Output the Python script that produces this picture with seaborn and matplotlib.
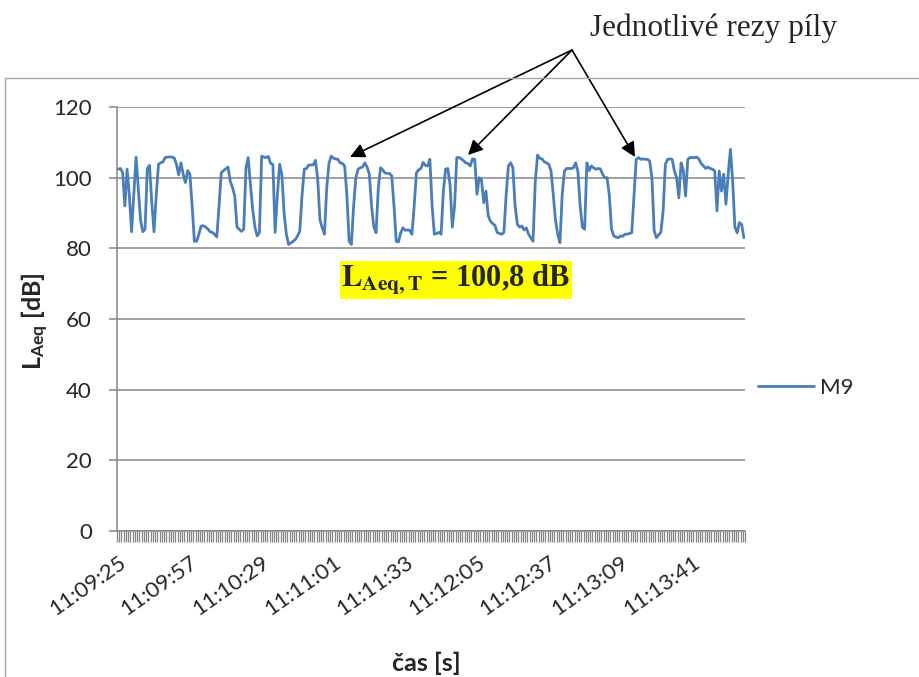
import matplotlib
matplotlib.use("Agg")
import matplotlib.pyplot as plt
import seaborn as sns
import numpy as np
import pandas as pd
from matplotlib.patches import Rectangle

# ---- data (one sample per second) ----
laeq = [
    102.4, 102.6, 101.5, 92.0, 102.4, 95.0, 84.7, 95.0, 105.8, 97.0,
    88.0, 84.7, 85.4, 102.5, 103.5, 93.0, 84.7, 95.0, 103.8, 104.2,
    104.5, 105.7, 105.8, 105.9, 105.8, 105.6, 103.8, 100.8, 104.2, 101.0,
    98.6, 102.0, 101.0, 92.0, 82.0, 82.0, 84.0, 86.3, 86.4, 86.0,
    85.5, 84.7, 84.5, 84.0, 83.2, 92.0, 101.4, 102.0, 102.5, 103.0,
    99.0, 97.2, 94.8, 86.0, 85.4, 84.8, 85.4, 102.8, 105.7, 98.0,
    91.0, 86.0, 83.5, 84.5, 106.1, 105.8, 105.7, 106.0, 104.0, 103.8,
    84.5, 95.0, 103.8, 101.0, 90.0, 84.0, 81.1, 81.5, 82.0, 82.5,
    83.5, 84.9, 95.0, 102.4, 102.6, 103.6, 103.6, 103.6, 104.9, 99.5,
    88.0, 85.8, 84.0, 97.0, 104.0, 106.1, 105.5, 105.3, 105.2, 104.2,
    104.0, 103.3, 95.0, 82.0, 81.1, 92.0, 100.0, 102.4, 102.8, 103.0,
    104.2, 103.0, 101.0, 92.0, 86.0, 84.4, 97.0, 102.8, 102.2, 101.3,
    101.2, 101.2, 100.5, 92.0, 82.0, 81.8, 84.4, 85.8, 85.1, 85.2,
    85.1, 84.0, 92.0, 101.4, 102.2, 102.6, 104.3, 103.5, 103.3, 105.2,
    92.0, 84.0, 84.2, 84.5, 84.0, 96.0, 102.4, 102.6, 98.0, 86.0,
    92.0, 105.7, 105.7, 105.3, 104.8, 104.2, 104.0, 103.3, 105.3, 105.2,
    95.3, 100.0, 99.5, 92.9, 96.2, 89.2, 87.7, 87.0, 86.5, 84.5,
    84.2, 84.0, 84.5, 95.0, 103.3, 104.2, 102.8, 92.0, 86.8, 86.0,
    86.3, 85.2, 85.8, 84.0, 83.0, 82.0, 99.0, 106.4, 105.5, 105.3,
    104.5, 104.2, 103.8, 102.0, 95.3, 88.0, 84.0, 81.6, 95.3, 101.9,
    102.6, 102.6, 102.6, 102.8, 104.2, 101.7, 92.0, 86.0, 85.4, 104.2,
    102.0, 103.3, 102.8, 102.4, 102.6, 102.5, 101.0, 100.0, 100.0, 95.0,
    85.4, 83.5, 83.2, 83.0, 83.5, 83.4, 84.0, 84.0, 84.2, 84.4,
    95.0, 105.2, 105.7, 105.2, 105.3, 105.2, 105.2, 104.7, 100.0, 85.0,
    83.0, 83.8, 84.6, 90.6, 103.8, 105.2, 105.3, 105.2, 102.0, 100.0,
    94.3, 104.2, 102.0, 94.8, 105.2, 105.7, 105.7, 105.7, 105.8, 105.2,
    104.0, 103.3, 102.6, 103.0, 102.6, 102.4, 101.9, 90.6, 101.9, 96.2,
    101.0, 92.5, 101.0, 108.0, 99.0, 86.0, 84.4, 87.3, 86.8, 83.0,
]
tick_labels = ["11:09:25", "11:09:57", "11:10:29", "11:11:01", "11:11:33",
               "11:12:05", "11:12:37", "11:13:09", "11:13:41"]
label_step = 32
y_ticks = [0, 20, 40, 60, 80, 100, 120]
series_name = "M9"
note_text = "Jednotlivé rezy píly"
result_value = "100,8"

W, H = 919, 677
sns.set_theme(style="white")
plt.rcParams['font.family'] = ['Lato', 'DejaVu Sans']
plt.rcParams['mathtext.fontset'] = 'custom'
plt.rcParams['mathtext.rm'] = 'Lato'
plt.rcParams['mathtext.bf'] = 'Lato:bold'
plt.rcParams['mathtext.it'] = 'Lato:italic'

fig = plt.figure(figsize=(W / 100, H / 100), dpi=100)
fig.patch.set_facecolor("white")

# outer chart frame (only left/top visible)
fig.add_artist(Rectangle((5 / W, -0.05), 1.2, (1 - 78 / H) + 0.05,
                         transform=fig.transFigure, fill=False,
                         edgecolor="#a6a6a6", linewidth=1.0))

ax = fig.add_axes([117 / W, 1 - 531 / H, 628 / W, 424 / H])
gray = "#868686"
n = len(laeq)
df = pd.DataFrame({"i": np.arange(n), "LAeq": laeq})
sns.lineplot(data=df, x="i", y="LAeq", ax=ax, color="#4A7EBB",
             linewidth=2.0, label=series_name, legend=False)

ax.set_xlim(-0.5, n - 0.5)
ax.set_ylim(0, 120)
ax.set_yticks(y_ticks)
ax.yaxis.grid(True, color=gray, linewidth=1.1)
ax.xaxis.grid(False)
for s in ["top", "right"]:
    ax.spines[s].set_visible(False)
for s in ["left", "bottom"]:
    ax.spines[s].set_color(gray)
    ax.spines[s].set_linewidth(1.1)

ax.set_xticks(np.arange(0, n, label_step)[:len(tick_labels)])
ax.set_xticklabels(tick_labels, rotation=35, ha="right", va="top",
                   rotation_mode="anchor", fontsize=16)
ax.set_xticks(np.arange(-0.5, n, 1), minor=True)
ax.tick_params(axis="x", which="major", bottom=True, length=0, pad=15)
ax.tick_params(axis="x", which="minor", bottom=True, length=8, width=0.9,
               color=gray, direction="out")
ax.tick_params(axis="y", left=True, length=6, width=1.1, color=gray,
               direction="out", labelsize=16, pad=12)
ax.set_xlabel("")
ax.set_ylabel("")

fig.text(35 / W, 1 - 321 / H, r"$\mathbf{L_{Aeq}}$ [dB]", rotation=90,
         fontweight="bold", fontsize=18, ha="center", va="center")
fig.text(426 / W, 1 - 663 / H, "čas [s]", fontweight="bold", fontsize=18,
         ha="center", va="center")

handles, labels = ax.get_legend_handles_labels()
fig.legend(handles, labels, loc="center left",
           bbox_to_anchor=(738 / W, 1 - 388 / H), frameon=False,
           fontsize=16, handlelength=2.5, handletextpad=0.3)

# annotation text and arrows
fig.text(590 / W, 1 - 36 / H, note_text, family=["Liberation Serif"],
         fontsize=22.5, ha="left", va="baseline")
start = (572, H - 50)
for tip in [(350, H - 157), (468, H - 155), (635, H - 157)]:
    ax.annotate("", xy=tip, xycoords="figure pixels", xytext=start,
                textcoords="figure pixels", annotation_clip=False,
                arrowprops=dict(arrowstyle="-|>", color="black", lw=1.2,
                                mutation_scale=22, shrinkA=0, shrinkB=0))

fig.text(456 / W, 1 - 280 / H,
         r"$\mathbf{L}_{\mathbf{Aeq,T}}$" + " = " + result_value + " dB",
         family=["Liberation Serif"], math_fontfamily="stix",
         fontweight="bold", fontsize=22, ha="center", va="center",
         bbox=dict(facecolor="#FFFF00", edgecolor="none", pad=1.0))

fig.savefig("out.png", dpi=100, facecolor="white")
